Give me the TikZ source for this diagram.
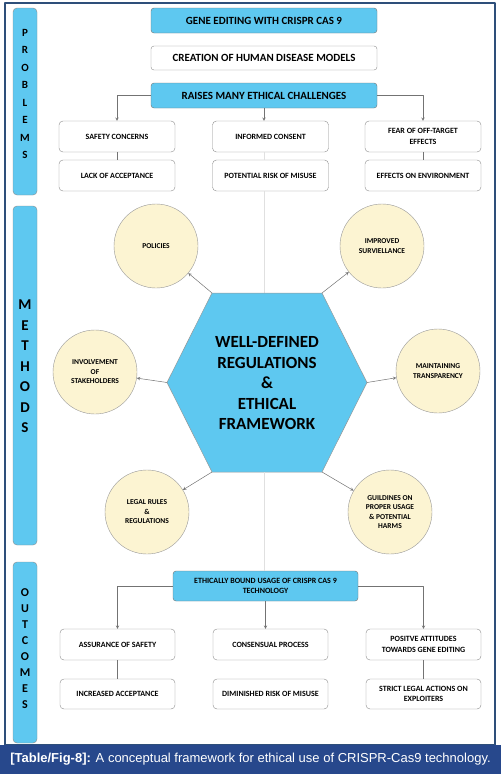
\documentclass[tikz,border=0pt]{standalone}
\usepackage{fontspec}
\setmainfont{Carlito}
\newfontfamily\capfont{Liberation Sans}
\definecolor{cblue}{HTML}{5EC8F0}
\definecolor{ccream}{HTML}{FCF4D2}
\definecolor{frameblue}{HTML}{2E4F7A}
\definecolor{capblue}{HTML}{27488C}
\begin{document}
\begin{tikzpicture}[x=1pt,y=-1pt,>=stealth,line join=round,
  bluebox/.style={draw=black!55,fill=cblue,rounded corners=3pt,minimum width=226pt,minimum height=25pt,inner sep=1pt,font=\bfseries\fontsize{11}{13}\selectfont},
  whitebox/.style={draw=black!45,fill=white,rounded corners=4pt,minimum width=116pt,minimum height=31pt,inner sep=1pt,align=center,font=\bfseries\fontsize{8}{10.5}\selectfont},
  circ/.style={circle,draw=black!40,fill=ccream,minimum size=84pt,inner sep=1pt,align=center,font=\bfseries\fontsize{7.5}{9.5}\selectfont},
  sidebar/.style={draw=black!45,fill=cblue,rounded corners=4pt},
  link/.style={draw=black!55,line width=0.5pt},
  faint/.style={draw=black!12,line width=0.5pt}]
\useasboundingbox (0,0) rectangle (501,774);
% frame and caption
\draw[frameblue,line width=1.2pt] (5,3) rectangle (495,745);
\fill[capblue] (0,745) rectangle (501,774);
\node[text=white,font=\capfont\fontsize{13}{15}\selectfont] (cap) at (250.5,759.5) {{\bfseries [Table/Fig-8]:} A conceptual framework for ethical use of CRISPR-Cas9 technology.};
% side bars
\draw[sidebar] (13,8) rectangle (37,195);
\draw[sidebar] (13,206) rectangle (37,545);
\draw[sidebar] (13,562) rectangle (37,743);
\node[align=center,font=\bfseries\fontsize{11}{17.5}\selectfont] (problbl) at (25,94) {P\\R\\O\\B\\L\\E\\M\\S};
\node[align=center,font=\bfseries\fontsize{15}{20.5}\selectfont] (methlbl) at (25,366.5) {M\\E\\T\\H\\O\\D\\S};
\node[align=center,font=\bfseries\fontsize{12}{16}\selectfont] (outclbl) at (25,649) {O\\U\\T\\C\\O\\M\\E\\S};
% problems
\node[bluebox] (gene) at (264,20.5) {GENE EDITING WITH CRISPR CAS 9};
\node[bluebox,fill=white,draw=black!45,minimum height=24pt] (create) at (264,58) {CREATION OF HUMAN DISEASE MODELS};
\node[bluebox] (raise) at (264,95.5) {RAISES MANY ETHICAL CHALLENGES};
\node[whitebox] (safety) at (117,136.5) {SAFETY CONCERNS};
\node[whitebox] (consent) at (270.5,136.5) {INFORMED CONSENT};
\node[whitebox] (fear) at (423,136.5) {FEAR OF OFF-TARGET\\EFFECTS};
\node[whitebox] (lack) at (117,175.5) {LACK OF ACCEPTANCE};
\node[whitebox] (risk) at (270.5,175.5) {POTENTIAL RISK OF MISUSE};
\node[whitebox] (envir) at (423,175.5) {EFFECTS ON ENVIRONMENT};
\draw[link,->] (raise.west) -| (safety.north);
\draw[link,->] (raise.south) -- (raise.south |- consent.north);
\draw[link,->] (raise.east) -| (fear.north);
\draw[link] (safety) -- (lack) (fear) -- (envir);
\draw[faint] (consent.south -| raise.south) -- (risk.north -| raise.south);
% methods
\coordinate (h1) at (212,293);
\coordinate (h2) at (322,293);
\coordinate (h3) at (367,382.5);
\coordinate (h4) at (322,472);
\coordinate (h5) at (212,472);
\coordinate (h6) at (167,382.5);
\draw[faint] (risk.south -| raise.south) -- (raise.south |- h1);
\filldraw[fill=cblue,draw=black!40,line width=0.5pt] (h1)--(h2)--(h3)--(h4)--(h5)--(h6)--cycle;
\node[align=center,font=\bfseries\fontsize{17}{20.5}\selectfont] (frame) at (267,383.5) {WELL-DEFINED\\REGULATIONS\\\&\\ETHICAL\\FRAMEWORK};
\node[circ] (pol) at (156,246) {POLICIES};
\node[circ] (surv) at (382,246) {IMPROVED\\SURVIELLANCE};
\node[circ] (invol) at (95,372) {INVOLVEMENT\\OF\\STAKEHOLDERS};
\node[circ] (transp) at (438,371) {MAINTAINING\\TRANSPARENCY};
\node[circ] (legal) at (147,512) {LEGAL RULES\\\&\\REGULATIONS};
\node[circ] (guide) at (390,512) {GUILDINES ON\\PROPER USAGE\\\& POTENTIAL\\HARMS};
\draw[link,->] (h1) -- (pol);
\draw[link,->] (h2) -- (surv);
\draw[link,->] (h6) -- (invol);
\draw[link,->] (h3) -- (transp);
\draw[link,->] (h5) -- (legal);
\draw[link,->] (h4) -- (guide);
% outcomes
\node[bluebox,minimum width=185pt,minimum height=30pt,align=center,font=\bfseries\fontsize{8}{10.5}\selectfont] (ethic) at (265.5,586) {ETHICALLY BOUND USAGE OF CRISPR CAS 9\\TECHNOLOGY};
\draw[faint] (raise.south |- h5) -- (raise.south |- ethic.north);
\node[whitebox,minimum width=115pt] (assur) at (117.5,644.5) {ASSURANCE OF SAFETY};
\node[whitebox,minimum width=115pt] (consen) at (270.5,644.5) {CONSENSUAL PROCESS};
\node[whitebox,minimum width=115pt] (posit) at (423.5,644.5) {POSITVE ATTITUDES\\TOWARDS GENE EDITING};
\node[whitebox,minimum width=115pt,minimum height=30pt] (incr) at (117.5,694) {INCREASED ACCEPTANCE};
\node[whitebox,minimum width=115pt,minimum height=30pt] (dimin) at (270.5,694) {DIMINISHED RISK OF MISUSE};
\node[whitebox,minimum width=115pt,minimum height=30pt] (strict) at (423.5,694) {STRICT LEGAL ACTIONS ON\\EXPLOITERS};
\draw[link,->] (ethic.west) -| (assur.north);
\draw[link,->] (ethic.south) -- (ethic.south |- consen.north);
\draw[link,->] (ethic.east) -| (posit.north);
\draw[link] (assur) -- (incr) (posit) -- (strict);
\end{tikzpicture}
\end{document}
